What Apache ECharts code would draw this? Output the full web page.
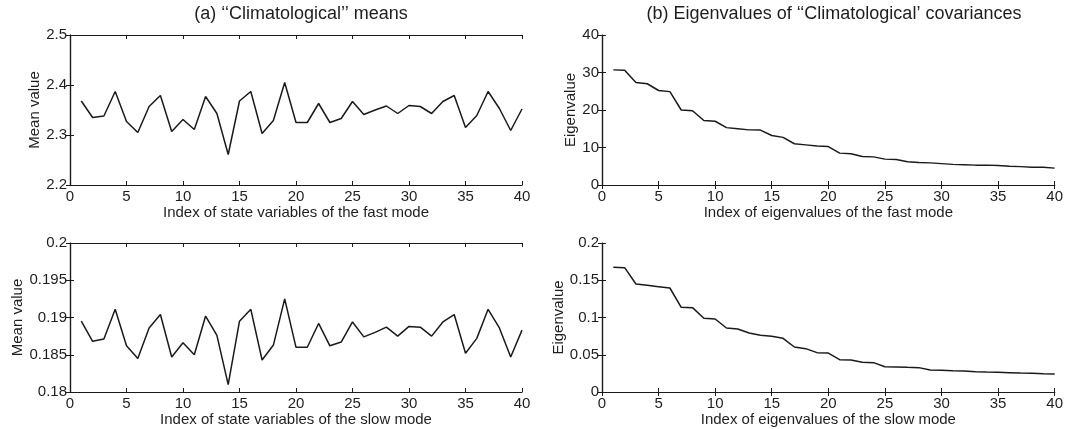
<!DOCTYPE html>
<html><head><meta charset="utf-8">
<script src="https://cdn.jsdelivr.net/npm/echarts@6/dist/echarts.min.js"></script>
<style>html,body{margin:0;padding:0;background:#fff}#c{width:1066px;height:429px}</style>
</head><body><div id="c"></div>
<script>
var xTicks = [0,5,10,15,20,25,30,35,40];
var fastMeans = [2.368,2.335,2.338,2.387,2.327,2.305,2.357,2.379,2.307,2.331,2.311,2.377,2.343,2.261,2.368,2.387,2.303,2.329,2.405,2.325,2.325,2.363,2.325,2.333,2.367,2.341,2.350,2.358,2.343,2.359,2.357,2.343,2.367,2.379,2.315,2.339,2.387,2.353,2.309,2.352];
var slowMeans = [0.1895,0.1868,0.1871,0.1911,0.1862,0.1845,0.1886,0.1904,0.1847,0.1866,0.1850,0.1902,0.1876,0.1810,0.1895,0.1911,0.1843,0.1863,0.1925,0.1860,0.1860,0.1892,0.1862,0.1867,0.1894,0.1874,0.1880,0.1887,0.1875,0.1888,0.1887,0.1875,0.1894,0.1904,0.1852,0.1872,0.1911,0.1886,0.1847,0.1883];
var fastEig = [30.7,30.6,27.35,27.0,25.2,24.9,20.0,19.8,17.2,17.0,15.3,15.0,14.7,14.65,13.2,12.7,11.0,10.7,10.4,10.25,8.5,8.35,7.6,7.5,6.9,6.8,6.2,6.0,5.9,5.7,5.5,5.4,5.3,5.3,5.2,5.0,4.9,4.75,4.72,4.5];
var slowEig = [0.1673,0.1669,0.1450,0.1432,0.1414,0.1396,0.1136,0.1132,0.0989,0.0980,0.0859,0.0846,0.0792,0.0761,0.0747,0.0720,0.0604,0.0582,0.0528,0.0523,0.0434,0.0430,0.0398,0.0394,0.0340,0.0336,0.0331,0.0327,0.0295,0.0291,0.0286,0.0282,0.0273,0.0268,0.0264,0.0260,0.0255,0.0251,0.0246,0.0242];

var FONT = 'Liberation Sans, Arial, Helvetica, sans-serif';
var AX = '#1a1a1a';
var TXT = '#1e1e1e';
var panels = [
  {grid:{left:70,top:35,width:452,height:150}, data:fastMeans, ymin:2.2, ymax:2.5, yint:0.1, yname:'Mean value', ygap:27, xname:'Index of state variables of the fast mode'},
  {grid:{left:602,top:35,width:453.5,height:150}, data:fastEig, ymin:0, ymax:40, yint:10, yname:'Eigenvalue', ygap:24, xname:'Index of eigenvalues of the fast mode'},
  {grid:{left:70,top:243,width:452,height:149}, data:slowMeans, ymin:0.18, ymax:0.2, yint:0.005, yname:'Mean value', ygap:44, xname:'Index of state variables of the slow mode'},
  {grid:{left:602,top:243,width:453.5,height:149}, data:slowEig, ymin:0, ymax:0.2, yint:0.05, yname:'Eigenvalue', ygap:35, xname:'Index of eigenvalues of the slow mode'}
];
var grids=[], xAxes=[], yAxes=[], series=[];
panels.forEach(function(p,i){
  grids.push(p.grid);
  var line = {show:true, lineStyle:{color:AX, width:1.2}};
  var tick = {show:true, inside:true, length:4, lineStyle:{color:AX, width:1}};
  xAxes.push({gridIndex:i, type:'value', position:'bottom', min:0, max:40, interval:5,
    axisLine:line, axisTick:tick, splitLine:{show:false},
    axisLabel:{color:TXT, fontSize:15, fontFamily:FONT, margin:4},
    name:p.xname, nameLocation:'middle', nameGap:19,
    nameTextStyle:{color:TXT, fontSize:15, fontFamily:FONT}});
  xAxes.push({gridIndex:i, type:'value', position:'top', min:0, max:40, interval:5,
    axisLine:line, axisTick:tick, splitLine:{show:false}, axisLabel:{show:false}});
  yAxes.push({gridIndex:i, type:'value', position:'left', min:p.ymin, max:p.ymax, interval:p.yint,
    axisLine:line, axisTick:tick, splitLine:{show:false},
    axisLabel:{color:TXT, fontSize:15, fontFamily:FONT, margin:3},
    name:p.yname, nameLocation:'middle', nameGap:p.ygap,
    nameTextStyle:{color:TXT, fontSize:15, fontFamily:FONT}});
  yAxes.push({gridIndex:i, type:'value', position:'right', min:p.ymin, max:p.ymax, interval:p.yint,
    axisLine:line, axisTick:tick, splitLine:{show:false}, axisLabel:{show:false}});
  series.push({type:'line', xAxisIndex:2*i, yAxisIndex:2*i, symbol:'none', animation:false,
    lineStyle:{color:'#1a1a1a', width:1.5},
    data:p.data.map(function(v,k){return [k+1, v];})});
});
var chart = echarts.init(document.getElementById('c'), null, {renderer:'canvas'});
chart.setOption({
  backgroundColor:'#fff', animation:false,
  title:[
    {text:'(a) \u2018\u2018Climatological\u2019\u2019 means', left:296, top:0, textAlign:'center',
     textStyle:{fontSize:18, fontWeight:'normal', color:TXT, fontFamily:FONT}},
    {text:'(b) Eigenvalues of \u2018\u2018Climatological\u2019 covariances', left:829, top:0, textAlign:'center',
     textStyle:{fontSize:18, fontWeight:'normal', color:TXT, fontFamily:FONT}}
  ],
  grid:grids, xAxis:xAxes, yAxis:yAxes, series:series
});
</script></body></html>
